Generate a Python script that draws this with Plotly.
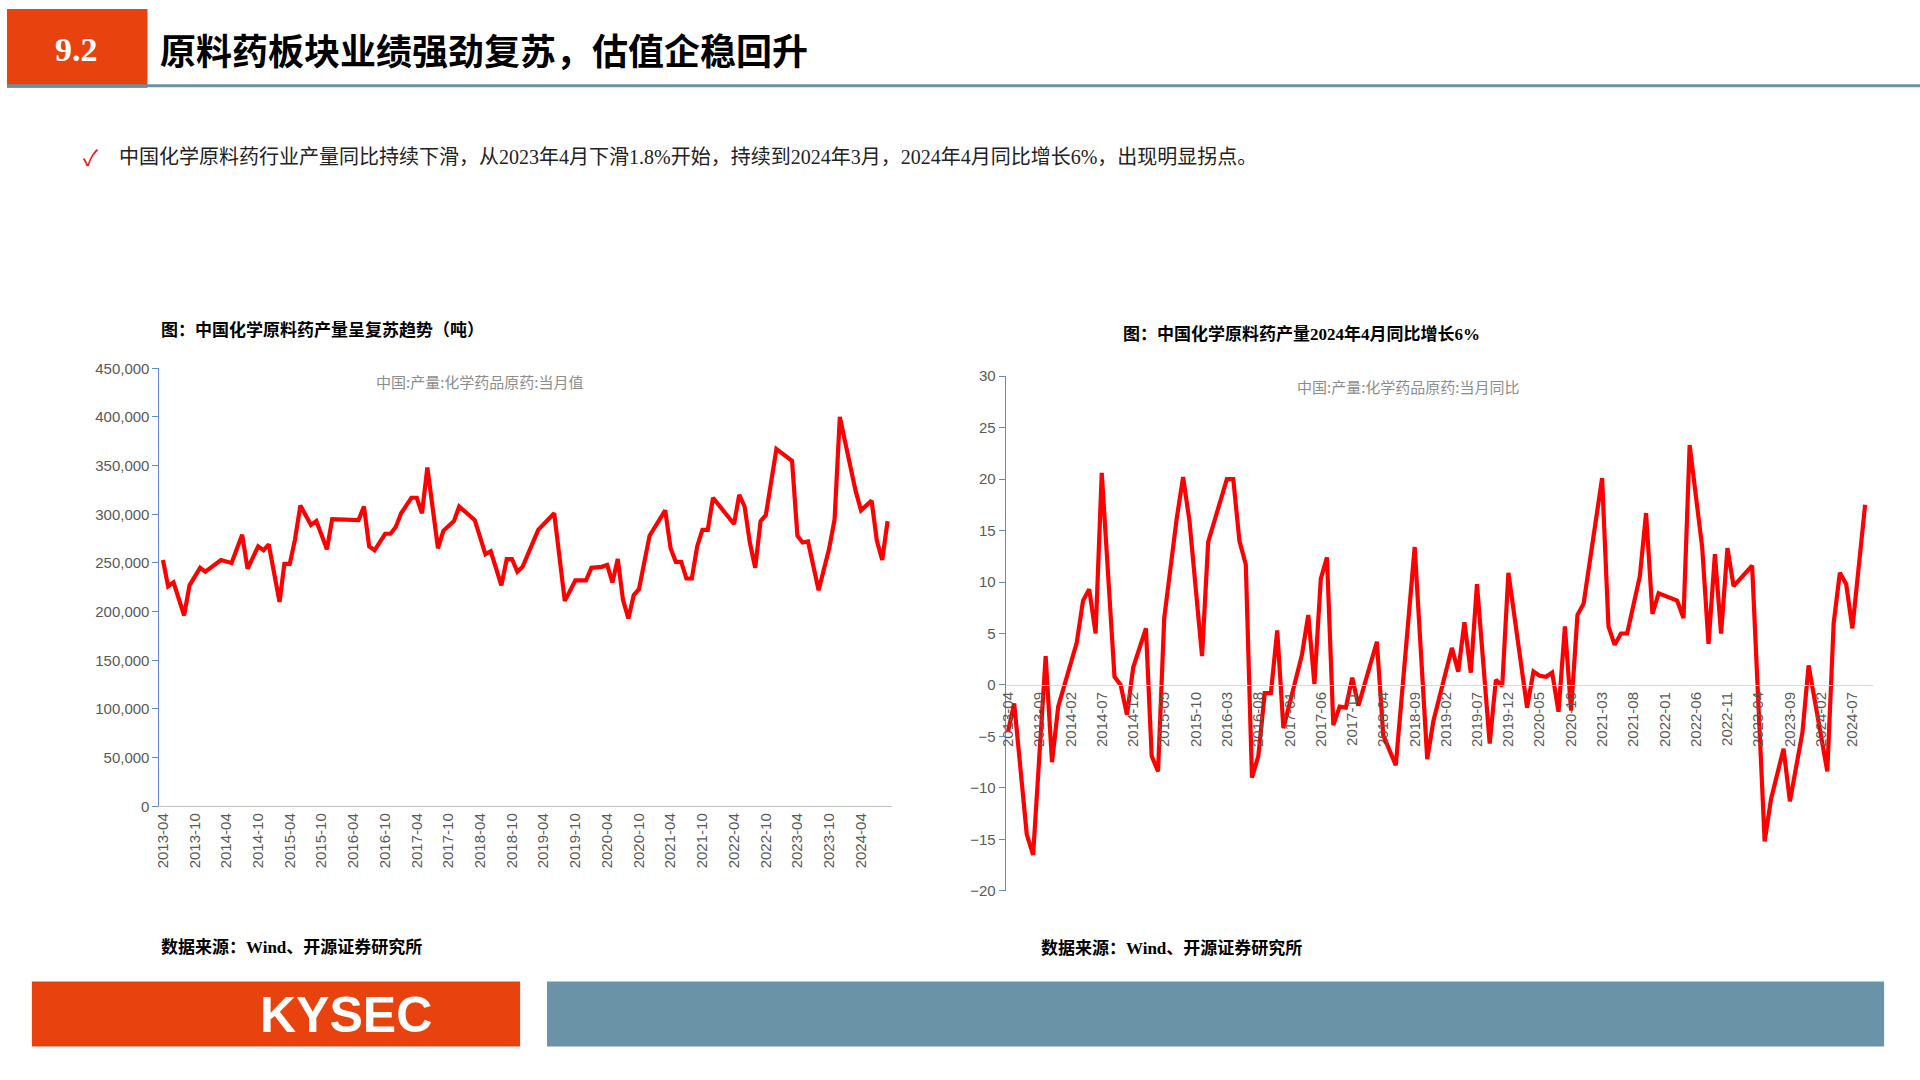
import plotly.graph_objects as go

# Left chart: monthly output (tons)
left_dates = ["2013-04","2013-05","2013-06","2013-08","2013-09","2013-11","2013-12","2014-03","2014-05","2014-07","2014-08","2014-10","2014-11","2014-12",
 "2015-02","2015-03","2015-04","2015-05","2015-06","2015-08","2015-09","2015-11","2015-12","2016-04","2016-05","2016-06","2016-07","2016-08","2016-10","2016-11","2016-12",
 "2017-01","2017-03","2017-04","2017-05","2017-06","2017-08","2017-09","2017-11","2017-12","2018-03","2018-05","2018-06","2018-08","2018-09","2018-10","2018-11","2018-12",
 "2019-03","2019-06","2019-08","2019-10","2019-12","2020-01","2020-03","2020-04","2020-05","2020-06","2020-07","2020-08","2020-09","2020-10","2020-12",
 "2021-03","2021-04","2021-05","2021-06","2021-07","2021-08","2021-09","2021-10","2021-11","2021-12","2022-04","2022-05","2022-06","2022-07","2022-08","2022-09","2022-10","2022-12",
 "2023-03","2023-04","2023-05","2023-06","2023-08","2023-10","2023-11","2023-12","2024-03","2024-04","2024-06","2024-07","2024-08","2024-09"]
left_values = [253000,226000,230000,196000,227000,245000,241000,253000,250000,279000,244000,267000,263000,269000,
 210000,249000,249000,274000,309000,289000,293000,264000,295000,294000,294000,308000,267000,263000,280000,280000,287000,
 301000,317000,317000,301000,348000,265000,283000,293000,308000,294000,259000,262000,227000,254000,254000,241000,246000,
 284000,301000,211000,232000,232000,245000,246000,248000,230000,254000,212000,193000,217000,223000,278000,
 304000,265000,251000,251000,234000,234000,267000,284000,284000,317000,290000,320000,308000,271000,245000,293000,299000,367000,
 355000,278000,271000,272000,222000,265000,295000,400000,324000,304000,314000,273000,253000,293000]

# Right chart: YoY growth (%)
right_dates = ["2013-04","2013-05","2013-07","2013-08","2013-10","2013-11","2013-12","2014-03","2014-04","2014-05","2014-06","2014-07","2014-09","2014-10","2014-11","2014-12",
 "2015-02","2015-03","2015-04","2015-05","2015-07","2015-08","2015-09","2015-11","2015-12","2016-03","2016-04","2016-05","2016-06","2016-07","2016-08","2016-09","2016-10","2016-11","2016-12",
 "2017-03","2017-04","2017-05","2017-06","2017-07","2017-08","2017-09","2017-10","2017-11","2017-12","2018-03","2018-04","2018-06","2018-09","2018-11","2018-12",
 "2019-03","2019-04","2019-05","2019-06","2019-07","2019-09","2019-10","2019-11","2019-12","2020-03","2020-04","2020-05","2020-06","2020-07","2020-08","2020-09","2020-10","2020-11","2020-12",
 "2021-03","2021-04","2021-05","2021-06","2021-07","2021-09","2021-10","2021-11","2021-12","2022-03","2022-04","2022-05","2022-07","2022-08","2022-09","2022-10","2022-11","2022-12",
 "2023-03","2023-05","2023-06","2023-08","2023-09","2023-11","2023-12","2024-03","2024-04","2024-05","2024-06","2024-07","2024-09"]
right_values = [-4.5,-1.8,-14.5,-16.5,2.8,-7.5,-2.1,4.1,8.2,9.3,5.0,20.6,0.8,0.0,-2.9,1.7,
 5.5,-6.9,-8.4,6.5,16.2,20.2,15.9,2.8,13.9,20.0,20.0,14.0,11.7,-9.0,-6.9,-0.8,-0.8,5.3,-4.2,
 2.9,6.8,0.1,10.3,12.4,-3.9,-2.1,-2.2,0.7,-2.0,4.2,-4.9,-7.8,13.4,-7.2,-3.5,
 3.6,1.3,6.1,1.2,9.8,-5.7,0.5,-0.1,10.9,-2.2,1.3,0.9,0.8,1.2,-2.6,5.7,-2.5,6.8,7.9,
 20.1,5.7,3.9,5.0,5.0,10.6,16.7,6.9,8.9,8.2,6.5,23.3,13.4,4.0,12.7,5.0,13.3,9.6,
 11.6,-15.2,-11.1,-6.2,-11.3,-4.6,1.9,-8.4,6.0,10.9,9.8,5.5,17.5]

left_dates = [d + "-01" for d in left_dates]
right_dates = [d + "-01" for d in right_dates]

FONT = "Noto Sans CJK SC"
RED = "#FF0000"
AXBLUE = "#5B8BD0"
GRAY = "#595959"

fig = go.Figure()
fig.add_trace(go.Scatter(x=left_dates, y=left_values, mode="lines",
                         line=dict(color=RED, width=4.2), xaxis="x", yaxis="y", showlegend=False))
fig.add_trace(go.Scatter(x=right_dates, y=right_values, mode="lines",
                         line=dict(color=RED, width=4.2), xaxis="x2", yaxis="y2", showlegend=False))

tickfont = dict(family="Liberation Sans", size=15, color=GRAY)
ry_bottom, ry_top = 0.1704, 0.6546
zero_pos = ry_bottom + 0.4 * (ry_top - ry_bottom)

fig.update_layout(
    width=1920, height=1080, margin=dict(l=0, r=0, t=0, b=0),
    paper_bgcolor="white", plot_bgcolor="white",
    xaxis=dict(domain=[0.0797, 0.4625], anchor="y", type="date",
               range=["2013-03-12", "2024-09-25"], tick0="2013-04-01", dtick="M6",
               tickformat="%Y-%m", tickangle=-90, tickfont=tickfont,
               showgrid=False, showline=True, linecolor="#BFBFBF", ticks="", zeroline=False),
    yaxis=dict(domain=[0.25, 0.662], anchor="x", range=[0, 450000], dtick=50000,
               tickformat=",", tickfont=tickfont, showgrid=False, showline=True,
               linecolor=AXBLUE, ticks="outside", tickcolor=AXBLUE, ticklen=6, zeroline=False),
    xaxis2=dict(domain=[0.522, 0.9755], anchor="free", position=zero_pos, type="date",
                range=["2013-03-20", "2024-10-10"], tick0="2013-04-01", dtick="M5",
                tickformat="%Y-%m", tickangle=-90, tickfont=tickfont,
                showgrid=False, showline=True, linecolor="#D9D9D9", ticks="", zeroline=False),
    yaxis2=dict(domain=[ry_bottom, ry_top], anchor="x2", range=[-20, 30], dtick=5,
                tickfont=tickfont, showgrid=False, showline=True, linecolor=AXBLUE,
                ticks="outside", tickcolor=AXBLUE, ticklen=6, zeroline=False),
)

shapes = [
    dict(type="rect", xref="paper", yref="paper", x0=0, x1=141/1920, y0=1-80/1080, y1=1,
         fillcolor="#E8430F", line_width=0),
    dict(type="line", xref="paper", yref="paper", x0=0, x1=1, y0=1-78/1080, y1=1-78/1080,
         line=dict(color="#6B8FA5", width=3)),
    dict(type="rect", xref="paper", yref="paper", x0=25/1920, x1=515/1920, y0=1-1054/1080, y1=1-988/1080,
         fillcolor="#E8430F", line_width=0),
    dict(type="rect", xref="paper", yref="paper", x0=542/1920, x1=1884/1920, y0=1-1054/1080, y1=1-988/1080,
         fillcolor="#6B93A8", line_width=0),
]
fig.update_layout(shapes=shapes)

def txt(x, y, text, size, color="black", bold=False, xanchor="left", family=FONT):
    fig.add_annotation(xref="paper", yref="paper", x=x/1920, y=1-y/1080, text=("<b>%s</b>" % text) if bold else text,
                       showarrow=False, xanchor=xanchor, yanchor="middle",
                       font=dict(family=family, size=size, color=color))

txt(70, 41, "9.2", 34, "white", True, "center", "Liberation Serif")
txt(152, 41, "原料药板块业绩强劲复苏，估值企稳回升", 36, "black", True)
txt(74, 149, "✓", 22, "#E8141E")
txt(110, 150, "中国化学原料药行业产量同比持续下滑，从2023年4月下滑1.8%开始，持续到2024年3月，2024年4月同比增长6%，出现明显拐点。", 20, "#222222", False, "left", "Liberation Serif, Noto Sans CJK SC")
txt(153, 325, "图：中国化学原料药产量呈复苏趋势（吨）", 17, "black", True)
txt(1299, 330, "图：中国化学原料药产量2024年4月同比增长6%", 17, "black", True, "center", "Liberation Serif, Noto Sans CJK SC")
txt(475, 378, "中国:产量:化学药品原药:当月值", 15, "#8C8C8C", False, "center")
txt(1407, 384, "中国:产量:化学药品原药:当月同比", 15, "#8C8C8C", False, "center")
txt(153, 953, "数据来源：Wind、开源证券研究所", 17, "black", True, "left", "Liberation Serif, Noto Sans CJK SC")
txt(1036, 954, "数据来源：Wind、开源证券研究所", 17, "black", True, "left", "Liberation Serif, Noto Sans CJK SC")
txt(340, 1022, "KYSEC", 50, "white", True, "center", "Liberation Sans")

fig.write_html("out.html", config={"displayModeBar": False},
               post_script="document.body.style.margin='0';document.body.style.overflow='hidden';"
                           "var d=document.querySelector('.plotly-graph-div');d.style.position='absolute';d.style.left='0';d.style.top='0';")
